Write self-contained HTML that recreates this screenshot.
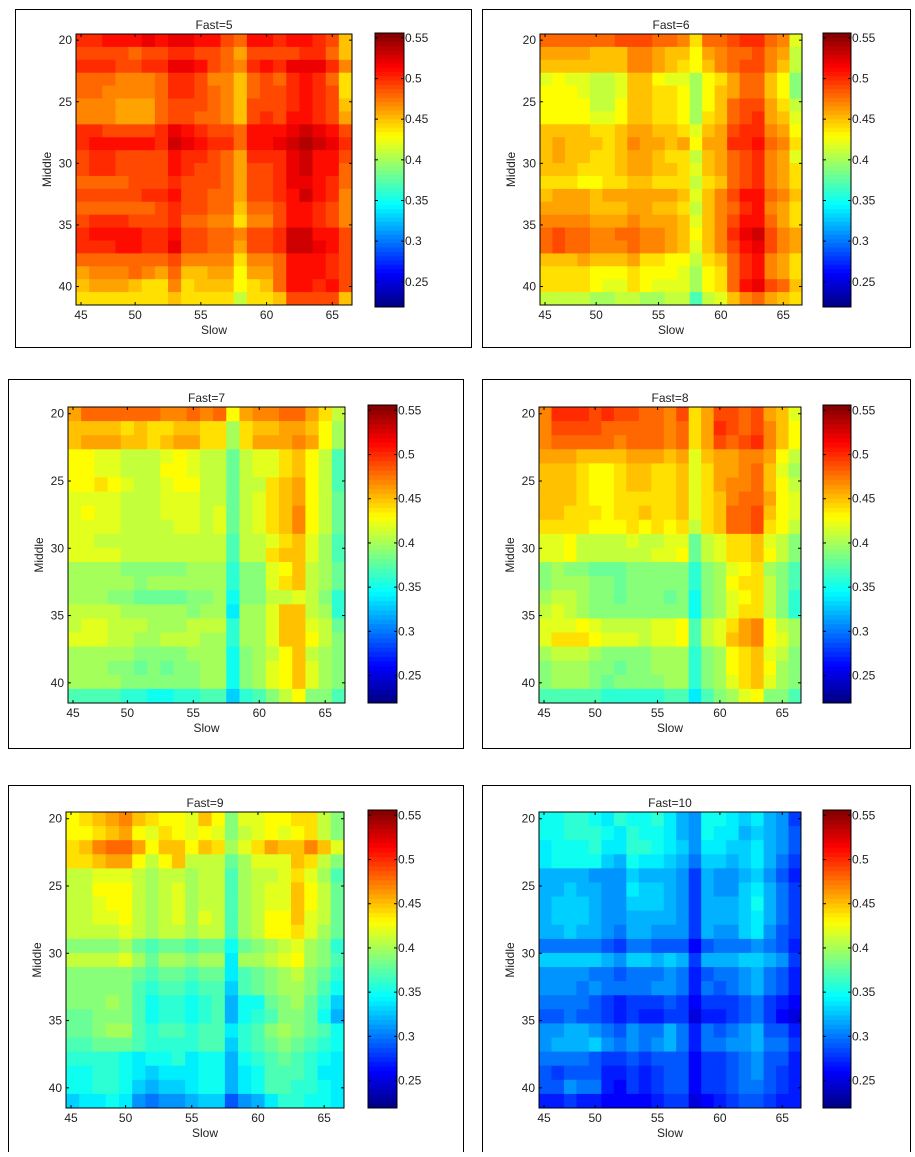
<!DOCTYPE html>
<html><head><meta charset="utf-8"><style>
body{margin:0;background:#fff;}
svg text{font-family:"Liberation Sans",Arial,sans-serif;font-size:12px;fill:#222;}
</style></head><body>
<svg id="fig" width="915" height="1152" viewBox="0 0 915 1152" xmlns="http://www.w3.org/2000/svg"></svg>
<script>
// Shared axis data
const slowValues = [46,47,48,49,50,51,52,53,54,55,56,57,58,59,60,61,62,63,64,65,66];
const middleValues = [20,21,22,23,24,25,26,27,28,29,30,31,32,33,34,35,36,37,38,39,40];
const xTickLabels = [45,50,55,60,65];
const yTickLabels = [20,25,30,35,40];
const cbarTicks = [0.25,0.3,0.35,0.4,0.45,0.5,0.55];
const fastTitles = ["Fast=5","Fast=6","Fast=7","Fast=8","Fast=9","Fast=10"];
// value codes: value = 0.20 + index*0.01 of char in CODE
const CODE = "0123456789abcdefghijklmnopqrstuvwxyz";
const fast5 = ["uuvvvwvwwvvtsvvuvvutp","ttttsttuuttsqttttuusp","uuuttuuwwvtsruvuwwwur","sssrrrsuutrrpstsuvuso","ssrrrrsuutsrpsttuvuto","rrrqqqstttsrptttuvutp","rrrqqqsttssrptutvvutq","uuttttuwvuttsvvvwxwvt","uvvvvvuxwvuusvvwxyxwu","tuuttttvuutsquuuwxvvt","tuuttttvuttsqttuwxvvs","sssstttutttsqttuwwvus","tttttuuvttssqttuvxvur","sssssstuttsspsstvvutr","tuuutttussrrorrtvvutr","uvvvvuuvttssrttuxxvvt","uuuvvuuwttssqttuxxwvt","ssssssstrrrrorrsvvvut","qrrrsrqsppqqnqqsvvvut","pqqqpooropppnopsvvuvt","ooooooopooooloopttttp"];
const fast6 = ["sssssstttssrosstuusrm","qqqqppprrqppnqrsstrql","ppppppprrqponprsttrpl","mnmmllmppnmmknoqsspnj","nnnmllmppoonknpqsspnj","nnnnllnppoonknpsttqol","nnnnmmnppoonkopstuqpm","ppppoopqqppompqtuurqn","pqpppoprqqpqnqquuvsro","pqppoopqqpoolpqsturqm","pppooopqqppompqsturqo","ooonnooppooolopsturqo","pqqqpqqqqqqpmprtvvsrp","qqqqpppqqppolprsuvrqo","rrrrqqqrqqqpmprtvvsqo","stssrrssrrqpnpruwxtrq","stssrrrsrrqpmprtvwtrq","pppqpppqoonnlopsuvrqo","oooonnnonnnmknosuvrqo","oooonmmonmmmknosvwtsp","llllkkllkkllhlmprsqpo"];
const fast7 = ["qssssssrrsrsnqrrssqol","ppppopooppookoppqqpnk","pqqqppopqqookoqqqrqnk","nnmmlllmnmllilmmopnlh","nnmmlllnnmllilmmopnlh","nnonmllmnnllillopqnlh","mmmmlllmmmllilmopqnli","mnmmlllmmmlmilmoprnli","mmmmllllmmlmilmoprnli","mmllllllllllhllmopmkh","mmmmllllllllhlloppmkh","kkkkjjjjjkkkgjjmnplki","kkkkkjkkkkkkgjjmoplki","kkkjjiiiijjkfjjllmljg","llllkkkkkjkkekkmpplkg","lmmlllkkklllgkkmppmli","mmmllkklllkkgkkmppnlj","kkkkkjjjjkkkfjklnplkj","kkkjjijijjkkfjkmnpmkj","kkkkjjjjjjkkfjkmnpmkj","hhhhggffgghhdghjlnjjh"];
const fast8 = ["ruuututtssrtoqttstqpm","rttttsssssrsoqutstrpn","rsssssrsssrsoqtsturpn","qqqppppqqqpqmpqqrrqnl","ppponnoppoopmoqqrspmk","ppponnoppoopmoqrrspnl","ppponnooooopmoprssqnm","ppooonoopoopmopsstpnm","oooonnnononolopsstonl","mmnllllmllmmilmoopmlj","mmnllllllmmnilmoopnlj","jkjjiiijjjjjgjkmnokjh","jkkkjjijjjjjgjknooljh","kllkjjijjjijfjkmnoljg","lmlkjjjjjjjjfjkmooljg","mmmnmllllmmnhlmoqrnlk","mooonmmmlmmnhlmpqrnmk","klllkjjjjkkkgjknopmlj","jkkkjjijjkkkgjknopnkj","jkkkjijjjjkkgjkmopmkj","hhhhhggggghhehjkmnjjh"];
const fast9 = ["nopqrponnmpnjmmnnoolj","nnopqnmonmnmjlmnmnolj","oprssqnppnpokmoqpprpm","oopqqnlnplllikmmmpolj","llmmmlkllkllhkllmomkh","llnnnlklmkllhklmmpnli","llmnnlklmkllhklmmpnli","llmmnlklmkmlhklnnpmli","llllmlkllkllhklnnomki","jjjjkihiihiifijklmkjg","llllmkikkjkkekklmnkjh","jjjjjihiihiiehijkljig","jjjjjhghhghhdhijkkjhf","jjjkjhfggfghcffijkigd","iijjjhfggfghcfghjjifc","iijkkhghhghheghjkjihf","hhiiihgggghhdghijihgf","ggggfeffgeffcfghihgfe","ffggfedeeeffcefhhhgee","ffggfdcddeffcefhhggfe","deefebabbcdd9bceggffe"];
const fast10 = ["ffggfegffgecbffedecb8","ffgggfegffecbfeecdcb9","efffgeeggfedbeeddecb9","effffdcfeedcaddcdeca8","ccccbbbdcccb8cbbcdb97","ccdccbbeddcb8cbbdeca8","cdddcbbdddcb8cccdfca8","cdddcbbccccb8cccdeca8","ccdccbaccbbb8cbbdeb98","aaaaa98aa99969aaaba97","dddddcbddcdc8cccddcb8","bbbbaa9aaaba79aabca97","bbbabaaaabba7a9abca97","aaaa9878889868889a876","99a99878778857789a865","bbccba9baaca7a9abc997","bcccdbababca7aabbcaa8","aaaa988989996889ab997","9899977878996889ab987","99baa76878996889aa987","778776666788567899877"];
const panels = [fast5, fast6, fast7, fast8, fast9, fast10];

// Layout (pixel boxes) per panel
const layout = [
 {box:[15,9,456,338], plot:[76,34,276,271], cbar:[375,33,29,274]},
 {box:[482,9,428,338], plot:[540,34,262,271], cbar:[823,33,28,274]},
 {box:[8,379,455,369], plot:[68,407,277,296], cbar:[368,405,29,298]},
 {box:[482,379,428,369], plot:[539,407,262,296], cbar:[823,405,28,298]},
 {box:[8,785,455,372], plot:[66,812,278,296], cbar:[368,810,29,298]},
 {box:[482,785,428,372], plot:[539,812,262,296], cbar:[823,810,28,298]}
];
const CMIN = 0.219, CMAX = 0.556;
const NS = "http://www.w3.org/2000/svg";
const svg = document.getElementById('fig');
function mk(tag, attrs, parent){const e=document.createElementNS(NS,tag);for(const k in attrs)e.setAttribute(k,attrs[k]);(parent||svg).appendChild(e);return e;}
function jet(v){let t=(v-CMIN)/(CMAX-CMIN);t=Math.max(0,Math.min(1,t));const c=x=>Math.round(255*Math.max(0,Math.min(1,1.5-Math.abs(x))));return `rgb(${c(4*t-3)},${c(4*t-2)},${c(4*t-1)})`;}
function decode(rows){const clean=rows.map(r=>r.replace(/\s/g,''));return middleValues.map((m,i)=>{const r=clean[Math.min(i,clean.length-1)];return slowValues.map((s,j)=>{const ch=r[Math.min(j,r.length-1)];return 0.20+CODE.indexOf(ch)*0.01;});});}

panels.forEach((rows,p)=>{
  const L = layout[p];
  const [px,py,pw,ph] = L.plot;
  const g = mk('g',{});
  
  
  const box = mk('rect',{x:L.box[0]+0.5,y:L.box[1]+0.5,width:L.box[2],height:L.box[3],fill:'#fff',stroke:'#000','stroke-width':1},g);
  
  
  const nx=slowValues.length, ny=middleValues.length;
  const x0=slowValues[0]-0.5, x1=slowValues[nx-1]+0.5;
  const xs=v=>px+(v-x0)/(x1-x0)*pw;
  const rowTop=i=>py+i/ny*ph;
  const yTick=v=>py+(v-19.5)/22*ph;
  const vals = decode(rows);
  const hm = mk('g',{},g);
  
  
  vals.forEach((row,i)=>row.forEach((v,j)=>{
    const xa=xs(slowValues[j]-0.5), xb=xs(slowValues[j]+0.5), ya=rowTop(i), yb=rowTop(i+1);
    const c = mk('rect',{x:xa,y:ya,width:xb-xa+0.4,height:yb-ya+0.4,fill:jet(v)},hm);
    
    
  }));
  const ax = mk('rect',{x:px,y:py,width:pw,height:ph,fill:'none',stroke:'#000','stroke-width':1},g);
  
  
  xTickLabels.forEach(t=>{
    let x=Math.max(xs(t),px+5);
    mk('line',{x1:x,y1:py,x2:x,y2:py+3,stroke:'#000'},g);
    mk('line',{x1:x,y1:py+ph,x2:x,y2:py+ph-3,stroke:'#000'},g);
    const tx=mk('text',{x:x,y:py+ph+14,'text-anchor':'middle'},g);
    tx.textContent=t;
    
    
  });
  yTickLabels.forEach(t=>{
    const y=yTick(t);
    mk('line',{x1:px,y1:y,x2:px+3,y2:y,stroke:'#000'},g);
    mk('line',{x1:px+pw,y1:y,x2:px+pw-3,y2:y,stroke:'#000'},g);
    const tx=mk('text',{x:px-4,y:y+4,'text-anchor':'end'},g);
    tx.textContent=t;
    
    
  });
  const title=mk('text',{x:px+pw/2,y:py-5,'text-anchor':'middle'},g);
  title.textContent=fastTitles[p];
  
  
  const xl=mk('text',{x:px+pw/2,y:py+ph+29,'text-anchor':'middle'},g);
  xl.textContent='Slow';
  
  
  const yl=mk('text',{x:0,y:0,'text-anchor':'middle',transform:`translate(${px-25},${py+ph/2}) rotate(-90)`},g);
  yl.textContent='Middle';
  
  
  // colorbar
  const [cx,cy,cw,ch]=L.cbar;
  const cg=mk('g',{},g);
  
  
  const N=64;
  for(let k=0;k<N;k++){
    const v=CMIN+(k+0.5)/N*(CMAX-CMIN);
    const ya=cy+ch-(k+1)/N*ch;
    mk('rect',{x:cx,y:ya,width:cw,height:ch/N+0.5,fill:jet(v)},cg);
  }
  mk('rect',{x:cx,y:cy,width:cw,height:ch,fill:'none',stroke:'#000'},cg);
  const cys=v=>cy+ch-(v-CMIN)/(CMAX-CMIN)*ch;
  cbarTicks.forEach(t=>{
    const y=cys(t);
    mk('line',{x1:cx,y1:y,x2:cx+3,y2:y,stroke:'#000'},cg);
    mk('line',{x1:cx+cw,y1:y,x2:cx+cw-3,y2:y,stroke:'#000'},cg);
    const tx=mk('text',{x:cx+cw+1,y:y+4},cg);
    tx.textContent=String(t);
    
    
  });
});
</script>
</body></html>
